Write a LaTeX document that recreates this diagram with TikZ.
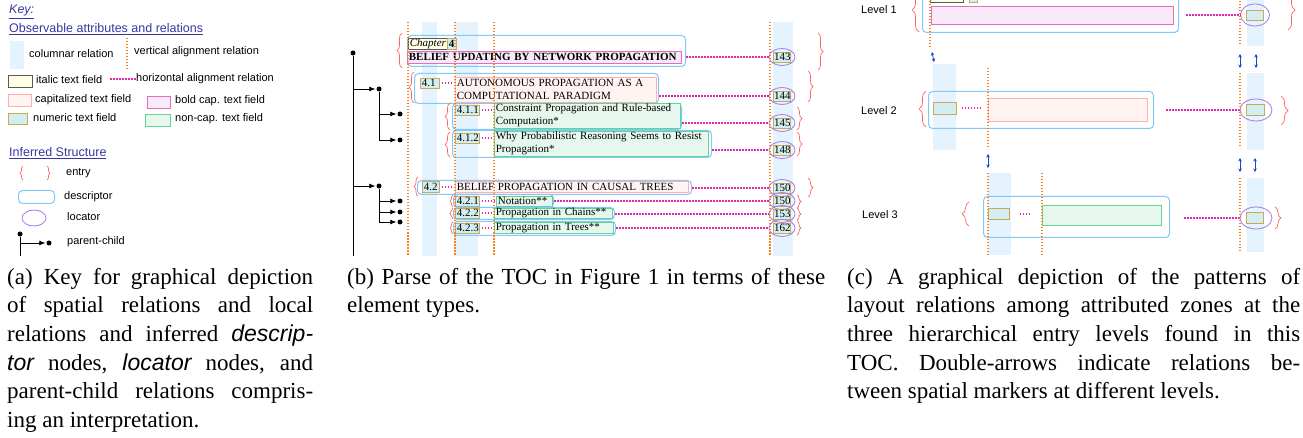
\documentclass[tikz,border=0pt]{standalone}
\usepackage{fontspec}
\setmainfont{Liberation Serif}
\setsansfont{Liberation Sans}
\usetikzlibrary{arrows.meta,shapes.geometric,decorations.pathreplacing}

\definecolor{colblue}{RGB}{228,243,253}
\definecolor{valorange}{RGB}{250,130,30}
\definecolor{halmag}{RGB}{225,40,170}
\definecolor{itafill}{RGB}{255,255,232}
\definecolor{itadraw}{RGB}{90,90,80}
\definecolor{capfill}{RGB}{255,244,242}
\definecolor{capdraw}{RGB}{255,175,175}
\definecolor{boldfill}{RGB}{248,234,246}
\definecolor{bolddraw}{RGB}{225,110,190}
\definecolor{numfill}{RGB}{210,238,240}
\definecolor{numdraw}{RGB}{200,170,90}
\definecolor{ncfill}{RGB}{230,248,238}
\definecolor{ncdraw}{RGB}{100,210,150}
\definecolor{entryred}{RGB}{255,100,100}
\definecolor{descblue}{RGB}{130,200,250}
\definecolor{locpurple}{RGB}{165,120,230}
\definecolor{keyblue}{RGB}{55,55,160}
\definecolor{arrblue}{RGB}{20,70,210}

\newcommand{\tocfont}{\fontsize{11}{13}\selectfont}
\newcommand{\keyfont}{\sffamily\fontsize{11}{13}\selectfont}
\newcommand{\headfont}{\sffamily\fontsize{12.5}{15}\selectfont}
\newcommand{\capfont}{\fontsize{23}{28.6}\selectfont}
\newcommand{\sfit}[1]{\textsf{\itshape #1}}

\tikzset{
  valign/.style={draw=valorange, line width=1.7pt, dash pattern=on 1.5pt off 1.5pt},
  halign/.style={draw=halmag, line width=1.7pt, dash pattern=on 1.5pt off 1.5pt},
  swatch/.style={anchor=north west, inner sep=0pt},
  field/.style={anchor=north west, inner xsep=1.5pt, inner ysep=0pt, line width=0.7pt, font=\tocfont, align=left},
  itaf/.style={field, draw=itadraw, fill=itafill},
  capf/.style={field, draw=capdraw, fill=capfill},
  boldf/.style={field, draw=bolddraw, fill=boldfill},
  numf/.style={field, draw=numdraw, fill=numfill},
  ncapf/.style={field, draw=ncdraw, fill=ncfill},
  locnum/.style={numf, anchor=center, inner xsep=0.5pt, text width=16pt, align=center, minimum height=10pt},
  desc/.style={draw=descblue, line width=1pt, rounded corners=4pt, anchor=north west, inner sep=0pt},
  loc/.style={draw=locpurple, line width=0.8pt, ellipse, inner sep=0pt, minimum width=26pt, minimum height=17pt},
  entry/.style={draw=entryred, line width=0.7pt, decorate, decoration={brace, amplitude=#1}},
  entry/.default=5pt,
  pdot/.style={circle, fill=black, inner sep=0pt, minimum size=5pt},
  pc/.style={line width=0.7pt, -{Latex[length=6pt,width=5pt]}, shorten >=1pt},
  lvlarrow/.style={draw=arrblue, line width=0.8pt, {Stealth[length=3.5pt,width=3.5pt]}-{Stealth[length=3.5pt,width=3.5pt]}},
  keytext/.style={anchor=west, font=\keyfont, inner sep=0pt},
  keyhead/.style={anchor=west, font=\headfont, text=keyblue, inner sep=0pt},
  captext/.style={anchor=north west, inner sep=0pt, align=left, font=\capfont}
}

\begin{document}
\begin{tikzpicture}[x=1pt,y=-1pt]
\useasboundingbox (0,0) rectangle (1303,438);
\clip (0,0) rectangle (1303,438);

% (a) key
\node[keyhead] (key) at (9,12) {\underline{\itshape Key:}};
\node[keyhead] (obs) at (9,29) {\underline{Observable attributes and relations}};
\node[swatch, fill=colblue, minimum width=14pt, minimum height=28pt] (kcol) at (10,41) {};
\node[keytext] (tcol) at (29,54) {columnar relation};
\coordinate (kv1) at (127,38);
\coordinate (kv2) at (127,70);
\draw[valign] (kv1) -- (kv2);
\node[keytext] (tval) at (134,52) {vertical alignment relation};
\node[itaf, minimum width=24pt, minimum height=12pt] (kita) at (8,75) {};
\node[keytext] (tita) at (36,80) {italic text field};
\node[keytext] (thal) at (136,79) {horizontal alignment relation};
\coordinate (kh1) at (110,79);
\draw[halign] (kh1) -- (thal.west);
\node[capf, minimum width=23pt, minimum height=12pt] (kcap) at (8,94) {};
\node[keytext] (tcap) at (35,100) {capitalized text field};
\node[boldf, minimum width=23pt, minimum height=12pt] (kbold) at (147,96) {};
\node[keytext] (tbold) at (175,101) {bold cap. text field};
\node[numf, minimum width=19pt, minimum height=11pt] (knum) at (8,113) {};
\node[keytext] (tnum) at (33,118) {numeric text field};
\node[ncapf, minimum width=25pt, minimum height=12pt] (knc) at (145,114) {};
\node[keytext] (tnc) at (175,119) {non-cap. text field};

\node[keyhead] (inf) at (9,153) {\underline{Inferred Structure}};
\draw[entry=3pt] (23,180) -- (23,166);
\draw[entry=3pt] (47,166) -- (47,180);
\node[keytext] (tent) at (66,173) {entry};
\node[desc, minimum width=36pt, minimum height=13pt] (kdesc) at (18,190) {};
\node[keytext] (tdesc) at (64,197) {descriptor};
\node[loc, minimum width=24pt, minimum height=16pt] (kloc) at (34,218) {};
\node[keytext] (tloc) at (67,217) {locator};
\node[pdot] (kpar) at (20,234) {};
\node[pdot] (kchi) at (49,243) {};
\coordinate (kend) at (20,256);
\draw[line width=0.7pt] (kpar) -- (kend);
\draw[pc] (kpar) |- (kchi);
\node[keytext] (tpc) at (67,242) {parent-child};

% (b) parse of the TOC
\fill[colblue] (422,22) rectangle (437,256);
\fill[colblue] (455,22) rectangle (478,256);
\fill[colblue] (773,22) rectangle (793,256);

\node[pdot] (r) at (353,53) {};
\node[pdot] (c41) at (379,89) {};
\node[pdot] (c411) at (400,114) {};
\node[pdot] (c412) at (400,140) {};
\node[pdot] (c42) at (379,186) {};
\node[pdot] (c421) at (400,201) {};
\node[pdot] (c422) at (400,212) {};
\node[pdot] (c423) at (400,222) {};
\coordinate (rend) at (353,256);
\draw[line width=0.7pt] (r) -- (rend);
\draw[pc] (r) |- (c41);
\draw[pc] (r) |- (c42);
\draw[pc] (c41) |- (c411);
\draw[pc] (c41) |- (c412);
\draw[pc] (c42) |- (c421);
\draw[pc] (c42) |- (c422);
\draw[pc] (c42) |- (c423);

\node[desc, minimum width=278pt, minimum height=31pt] (d4) at (407,35) {};
\node[itaf, minimum height=11pt, text width=36pt] (ch4) at (408,38) {\itshape Chapter};
\node[numf, minimum height=11pt, text width=6pt] (n4) at (447,38) {\bfseries 4};
\node[boldf, minimum height=12pt, text width=271pt] (t4) at (407,51) {\bfseries BELIEF UPDATING BY NETWORK PROPAGATION};
\node[locnum] (p143) at (782,57) {143};
\node[loc] (l143) at (p143) {};
\draw[halign] (d4.east |- l143) -- (l143);
\draw[entry] (402,68) -- (402,33);
\draw[entry] (818,33) -- (818,70);

\node[desc, minimum width=244pt, minimum height=30pt] (d41) at (414,73) {};
\node[numf, minimum height=10pt, text width=16pt] (n41) at (420,78) {4.1};
\node[capf, minimum height=25pt, text width=198pt] (k41) at (455,77) {\makebox[196pt][s]{AUTONOMOUS PROPAGATION AS A}\\COMPUTATIONAL PARADIGM};
\draw[halign, shorten <=2pt, shorten >=3pt] (n41) -- (n41 -| k41.west);
\node[locnum] (p144) at (782,96) {144};
\node[loc] (l144) at (p144) {};
\draw[halign] (d41.east |- l144) -- (l144);
\draw[entry] (414,103) -- (414,72);
\draw[entry] (808,71) -- (808,102);

\node[desc, minimum width=229pt, minimum height=26pt] (d411) at (452,103) {};
\node[numf, minimum height=10pt, text width=21pt] (n411) at (455,105) {4.1.1};
\node[ncapf, minimum height=25pt, text width=183pt] (k411) at (494,103) {\makebox[181pt][s]{Constraint Propagation and Rule-based}\\Computation*};
\draw[halign, shorten <=2pt, shorten >=2pt] (n411) -- (n411 -| k411.west);
\node[locnum] (p145) at (782,123) {145};
\node[loc] (l145) at (p145) {};
\draw[halign] (d411.east |- l145) -- (l145);
\draw[entry] (450,130) -- (450,103);
\draw[entry] (797,107) -- (797,130);

\node[desc, minimum width=259pt, minimum height=27pt] (d412) at (452,130) {};
\node[numf, minimum height=10pt, text width=21pt] (n412) at (455,133) {4.1.2};
\node[ncapf, minimum height=25pt, text width=211pt] (k412) at (494,131) {\makebox[209pt][s]{Why Probabilistic Reasoning Seems to Resist}\\Propagation*};
\draw[halign, shorten <=2pt, shorten >=2pt] (n412) -- (n412 -| k412.west);
\node[locnum] (p148) at (782,150) {148};
\node[loc] (l148) at (p148) {};
\draw[halign] (d412.east |- l148) -- (l148);
\draw[entry] (450,157) -- (450,132);
\draw[entry] (797,132) -- (797,156);

\node[desc, minimum width=274pt, minimum height=14pt] (d42) at (417,180) {};
\node[numf, minimum height=11pt, text width=14pt] (n42) at (422,181) {4.2};
\node[capf, minimum height=11pt, text width=230pt] (k42) at (455,181) {\makebox[229pt][s]{BELIEF PROPAGATION IN CAUSAL TREES}};
\draw[halign, shorten <=2pt, shorten >=3pt] (n42) -- (n42 -| k42.west);
\node[locnum] (p150) at (782,188) {150};
\node[loc] (l150) at (p150) {};
\draw[halign] (d42.east |- l150) -- (l150);
\draw[entry=4pt] (418,196) -- (418,177);
\draw[entry] (808,178) -- (808,197);

\node[desc, minimum width=100pt, minimum height=13pt] (d421) at (453,194) {};
\node[numf, minimum height=10pt, text width=21pt] (n421) at (455,196) {4.2.1};
\node[ncapf, minimum height=10pt, text width=53pt] (k421) at (496,196) {Notation**};
\draw[halign, shorten <=2pt, shorten >=2pt] (n421) -- (n421 -| k421.west);
\node[locnum] (p150b) at (782,201) {150};
\node[loc] (l150b) at (p150b) {};
\draw[halign] (d421.east |- l150b) -- (l150b);
\draw[entry=3pt] (453,207) -- (453,195);
\draw[entry=4pt] (797,195) -- (797,208);

\node[desc, minimum width=161pt, minimum height=12pt] (d422) at (453,207) {};
\node[numf, minimum height=10pt, text width=21pt] (n422) at (455,208) {4.2.2};
\node[ncapf, minimum height=10pt, text width=115pt] (k422) at (494,208) {Propagation in Chains**};
\draw[halign, shorten <=2pt, shorten >=2pt] (n422) -- (n422 -| k422.west);
\node[locnum] (p153) at (782,214) {153};
\node[loc] (l153) at (p153) {};
\draw[halign] (d422.east |- l153) -- (l153);
\draw[entry=3pt] (453,219) -- (453,208);
\draw[entry=4pt] (797,208) -- (797,220);

\node[desc, minimum width=162pt, minimum height=14pt] (d423) at (453,221) {};
\node[numf, minimum height=10pt, text width=21pt] (n423) at (455,223) {4.2.3};
\node[ncapf, minimum height=11pt, text width=116pt] (k423) at (494,222) {Propagation in Trees**};
\draw[halign, shorten <=2pt, shorten >=2pt] (n423) -- (n423 -| k423.west);
\node[locnum] (p162) at (782,228) {162};
\node[loc] (l162) at (p162) {};
\draw[halign] (d423.east |- l162) -- (l162);
\draw[entry=3pt] (453,234) -- (453,222);
\draw[entry=4pt] (797,221) -- (797,235);

\draw[valign] (408,22) -- (408,256);
\draw[valign] (455,22) -- (455,256);
\draw[valign] (494,22) -- (494,256);
\draw[valign] (770,22) -- (770,256);

% (c) patterns at the three levels
\fill[colblue] (1247,-5) rectangle (1264,46);
\fill[colblue] (933,64) rectangle (956,150);
\fill[colblue] (1247,73) rectangle (1264,150);
\fill[colblue] (988,173) rectangle (1011,255);
\fill[colblue] (1247,178) rectangle (1264,252);

\node[keytext] (lv1) at (861,10) {Level 1};
\node[desc, minimum width=256pt, minimum height=52pt] (cd1) at (922,-20) {};
\node[itaf, minimum width=33pt, minimum height=12pt] (cita) at (930,-10) {};
\node[numf, minimum width=8pt, minimum height=12pt] (cnum1) at (969,-10) {};
\node[boldf, minimum width=242pt, minimum height=18pt] (cbold) at (931,6) {};
\node[numf, anchor=center, minimum width=17pt, minimum height=10pt] (cp1) at (1255,15) {};
\node[loc, minimum width=29pt, minimum height=22pt] (cl1) at (cp1) {};
\draw[halign, shorten <=7pt] (cd1.east |- cl1) -- (cl1);
\draw[entry=7pt] (919,32) -- (919,-12);
\draw[entry=7pt] (1288,-10) -- (1288,30);

\node[keytext] (lv2) at (861,111) {Level 2};
\node[desc, minimum width=225pt, minimum height=37pt] (cd2) at (928,91) {};
\node[numf, minimum width=23pt, minimum height=12pt] (cn2) at (933,102) {};
\node[capf, minimum width=159pt, minimum height=23pt] (ck2) at (988,98) {};
\draw[halign, shorten <=5pt, shorten >=8pt] (cn2) -- (cn2 -| ck2.west);
\node[numf, anchor=center, minimum width=18pt, minimum height=11pt] (cp2) at (1255,110) {};
\node[loc, minimum width=32pt, minimum height=22pt] (cl2) at (1256,110) {};
\draw[halign, shorten <=12pt] (cd2.east |- cl2) -- (cl2);
\draw[entry=7pt] (926,127) -- (926,91);
\draw[entry=7pt] (1281,96) -- (1281,125);

\node[keytext] (lv3) at (862,215) {Level 3};
\node[desc, minimum width=186pt, minimum height=41pt] (cd3) at (983,196) {};
\node[numf, minimum width=21pt, minimum height=11pt] (cn3) at (988,208) {};
\node[ncapf, minimum width=119pt, minimum height=20pt] (ck3) at (1042,205) {};
\draw[halign, shorten <=10pt, shorten >=11pt] (cn3) -- (cn3 -| ck3.west);
\node[numf, anchor=center, minimum width=17pt, minimum height=11pt] (cp3) at (1255,218) {};
\node[loc, minimum width=32pt, minimum height=22pt] (cl3) at (1256,218) {};
\draw[halign, shorten <=14pt] (cd3.east |- cl3) -- (cl3);
\draw[entry=7pt] (969,226) -- (969,202);
\draw[entry=6pt] (1275,207) -- (1275,229);

\draw[valign] (930,-5) -- (930,47);
\draw[valign] (1240,-5) -- (1240,46);
\draw[valign] (988,68) -- (988,148);
\draw[valign] (1240,73) -- (1240,147);
\draw[valign] (988,173) -- (988,255);
\draw[valign] (1042,173) -- (1042,255);
\draw[valign] (1240,178) -- (1240,252);

\coordinate (a1t) at (932,52);
\coordinate (a1b) at (934,62);
\coordinate (a2t) at (1240,54);
\coordinate (a2b) at (1240,68);
\coordinate (a3t) at (1256,54);
\coordinate (a3b) at (1256,68);
\coordinate (b1t) at (988,154);
\coordinate (b1b) at (988,168);
\coordinate (b2t) at (1240,158);
\coordinate (b2b) at (1240,172);
\coordinate (b3t) at (1255,158);
\coordinate (b3b) at (1255,172);
\draw[lvlarrow] (a1t) -- (a1b);
\draw[lvlarrow] (a2t) -- (a2b);
\draw[lvlarrow] (a3t) -- (a3b);
\draw[lvlarrow] (b1t) -- (b1b);
\draw[lvlarrow] (b2t) -- (b2b);
\draw[lvlarrow] (b3t) -- (b3b);

% captions
\node[captext] (capa) at (7,268) {\makebox[306pt][s]{(a) Key for graphical depiction}\\
  \makebox[306pt][s]{of spatial relations and local}\\
  \makebox[306pt][s]{relations and inferred \sfit{descrip-}}\\
  \makebox[306pt][s]{\sfit{tor} nodes, \sfit{locator} nodes, and}\\
  \makebox[306pt][s]{parent-child relations compris-}\\
  ing an interpretation.};
\node[captext] (capb) at (347,268) {\makebox[478pt][s]{(b) Parse of the TOC in Figure 1 in terms of these}\\
  element types.};
\node[captext] (capc) at (847,268) {\makebox[453pt][s]{(c) A graphical depiction of the patterns of}\\
  \makebox[453pt][s]{layout relations among attributed zones at the}\\
  \makebox[453pt][s]{three hierarchical entry levels found in this}\\
  \makebox[453pt][s]{TOC. Double-arrows indicate relations be-}\\
  tween spatial markers at different levels.};
\end{tikzpicture}
\end{document}
